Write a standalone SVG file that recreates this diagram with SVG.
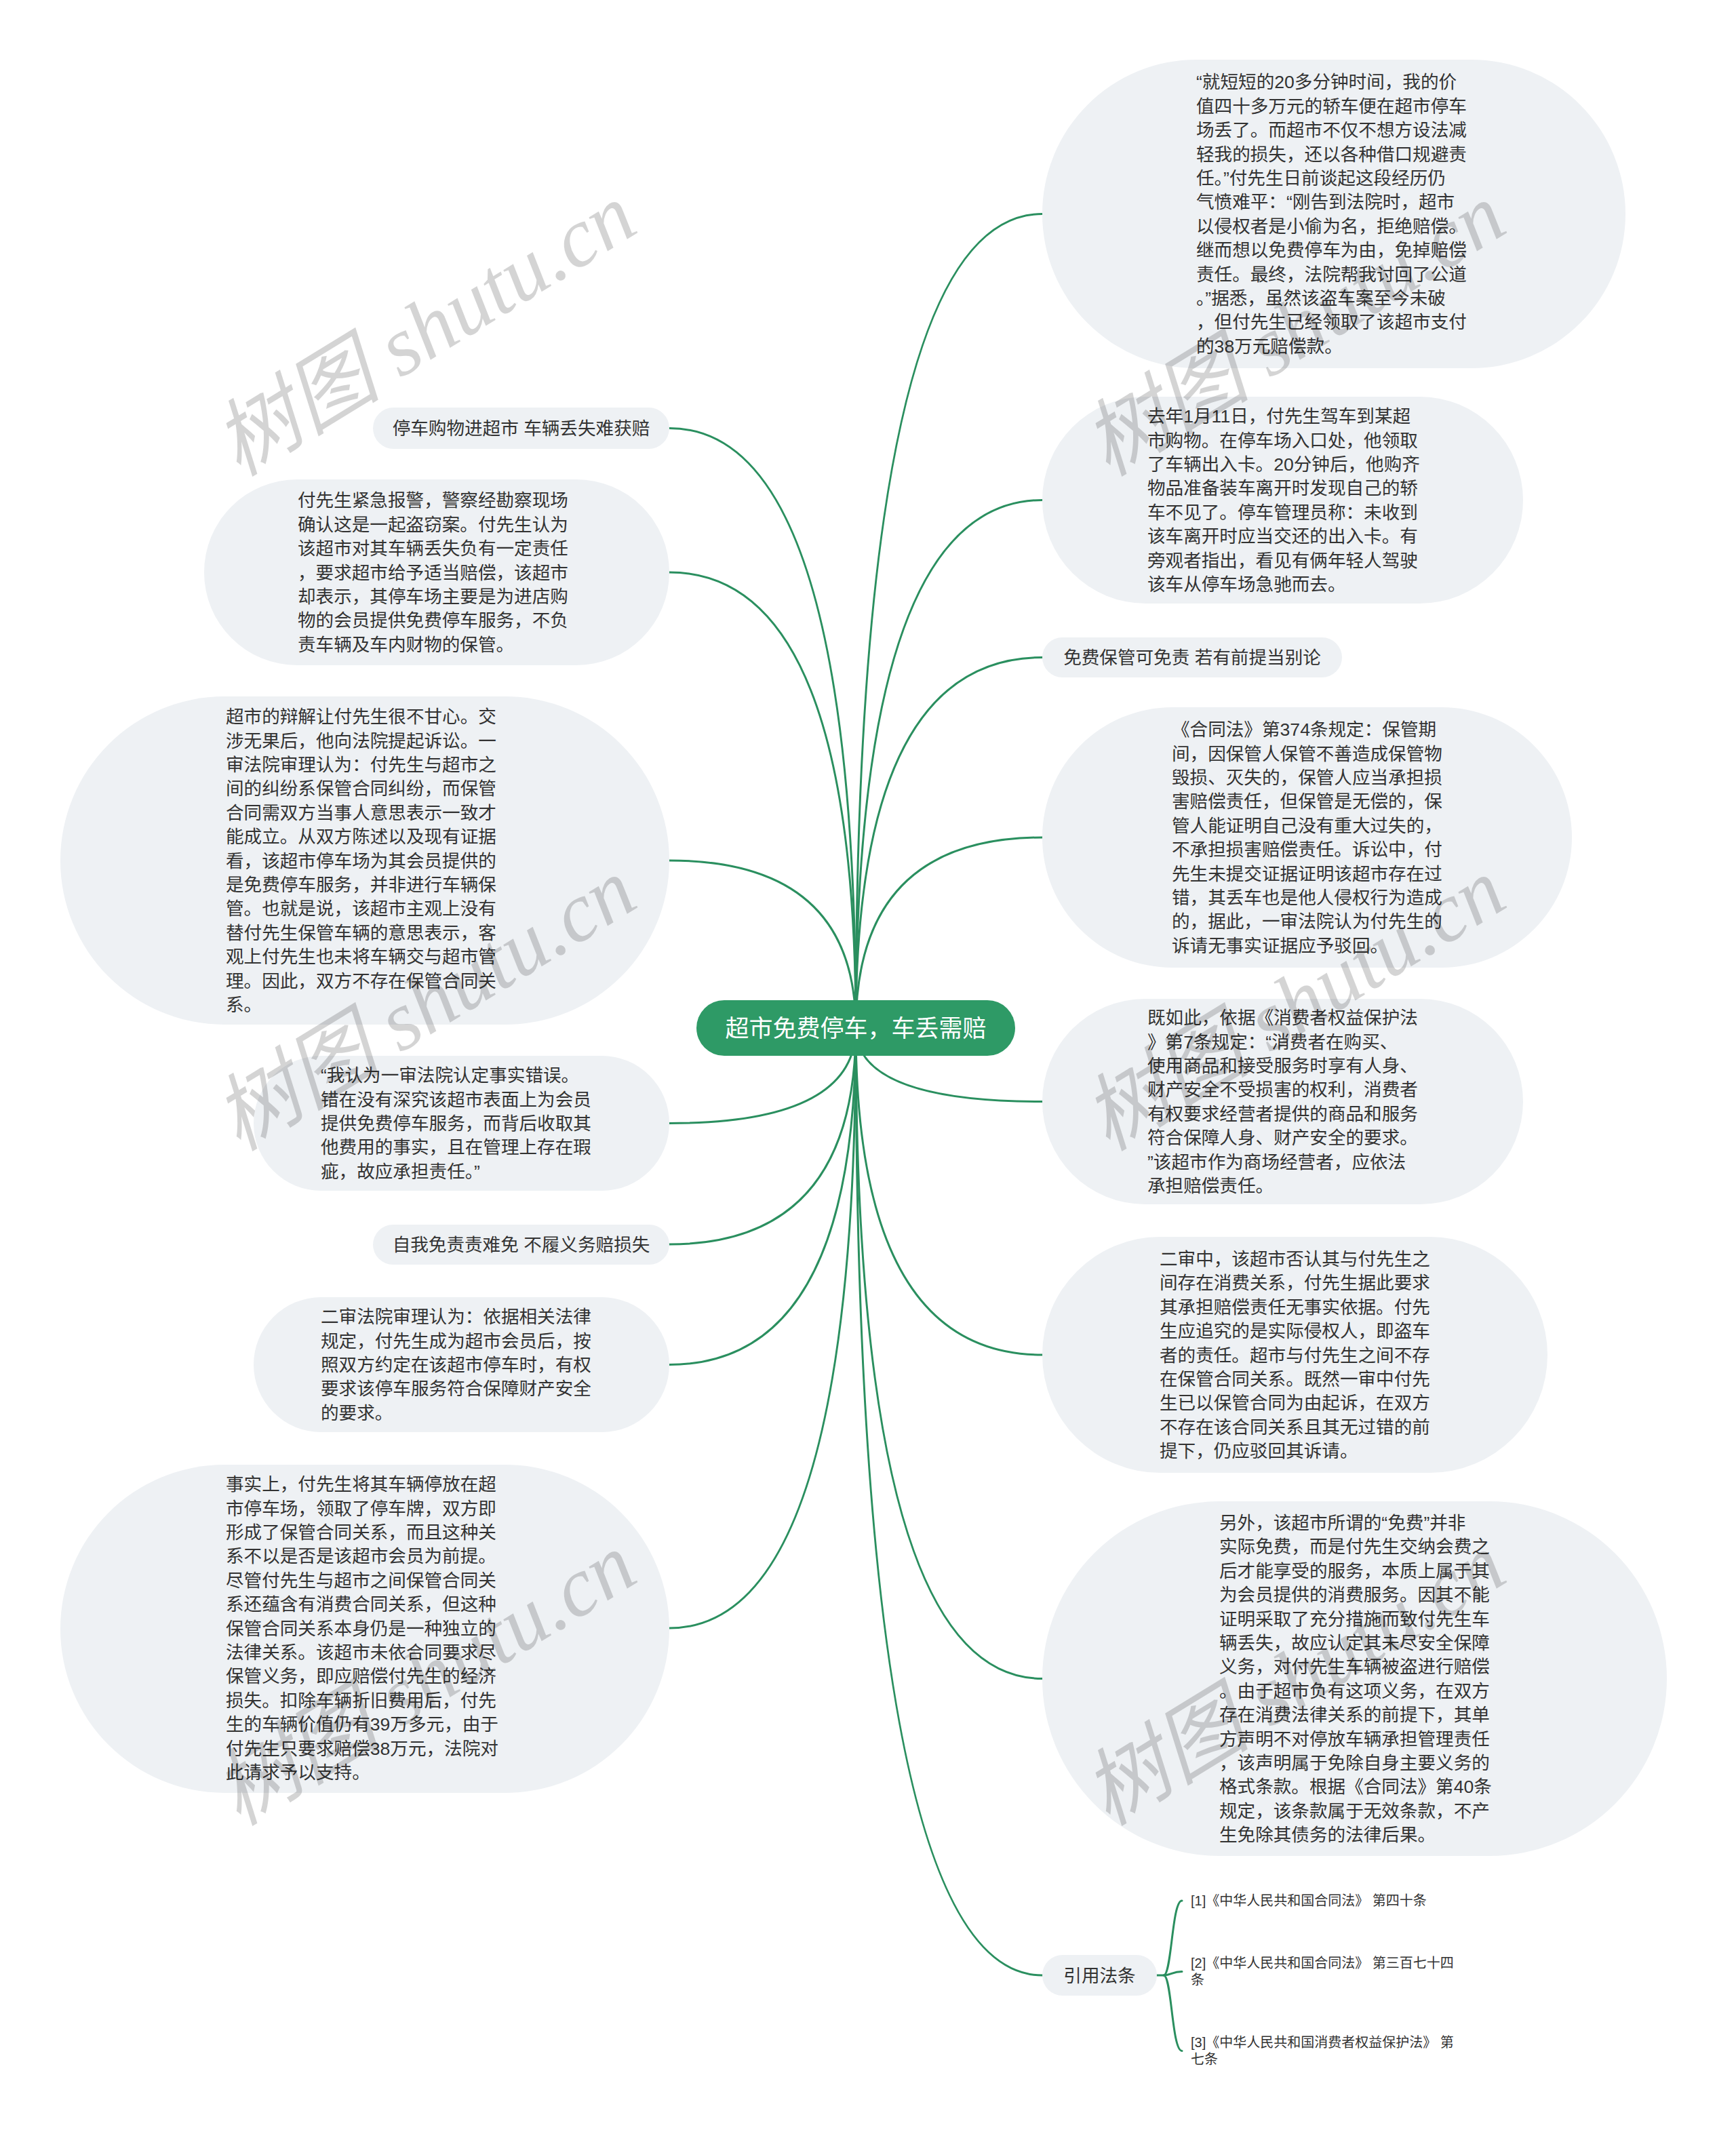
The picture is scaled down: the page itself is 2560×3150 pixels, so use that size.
<svg xmlns="http://www.w3.org/2000/svg" width="2560" height="3150" viewBox="0 0 2560 3150">
<style>
.bg{fill:#ffffff}
.b{fill:#eef1f4}
.t{font-family:"Liberation Sans","Noto Sans CJK SC",sans-serif;font-size:26.6px;fill:#333333}
.tm{font-family:"Liberation Sans","Noto Sans CJK SC",sans-serif;font-size:26.6px;fill:#333333;text-anchor:middle}
.ref{font-family:"Liberation Sans","Noto Sans CJK SC",sans-serif;font-size:20px;fill:#333333}
.c{fill:none;stroke:#2a8f5f;stroke-width:3;stroke-linecap:round}
.wm{font-family:"Liberation Serif","Noto Sans CJK SC",serif;font-size:124px;font-style:italic;fill:#000000;fill-opacity:0.17}
</style>
<rect class="bg" x="0" y="0" width="2560" height="3150"/>
<g id="connectors">
<path class="c" d="M1262,1516 Q1262,315.5 1537,315.5"/>
<path class="c" d="M1262,1516 Q1262,737.5 1537,737.5"/>
<path class="c" d="M1262,1516 Q1262,969.5 1537,969.5"/>
<path class="c" d="M1262,1516 Q1262,1235 1537,1235"/>
<path class="c" d="M1262,1516 Q1262,1624.5 1537,1624.5"/>
<path class="c" d="M1262,1516 Q1262,1998 1537,1998"/>
<path class="c" d="M1262,1516 Q1262,2475.5 1537,2475.5"/>
<path class="c" d="M1262,1516 Q1262,2913 1537,2913"/>
<path class="c" d="M1262,1516 Q1262,631.5 987,631.5"/>
<path class="c" d="M1262,1516 Q1262,844 987,844"/>
<path class="c" d="M1262,1516 Q1262,1269 987,1269"/>
<path class="c" d="M1262,1516 Q1262,1656.5 987,1656.5"/>
<path class="c" d="M1262,1516 Q1262,1835 987,1835"/>
<path class="c" d="M1262,1516 Q1262,2012.5 987,2012.5"/>
<path class="c" d="M1262,1516 Q1262,2401 987,2401"/>
<path class="c" d="M1706,2913 L1716,2913 C1728,2913 1728,2803 1743,2803"/>
<path class="c" d="M1716,2913 C1728,2913 1728,2907.5 1743,2907.5"/>
<path class="c" d="M1716,2913 C1728,2913 1728,3024.5 1743,3024.5"/>
</g>
<g id="center">
<rect x="1027" y="1475" width="470" height="82" rx="41" fill="#2e9a66"/>
<text x="1262" y="1529" text-anchor="middle" font-family="Liberation Sans, Noto Sans CJK SC, sans-serif" font-size="35" fill="#ffffff">超市免费停车，车丢需赔</text>
</g>
<g id="r1">
<rect class="b" x="1537" y="88" width="860" height="455" rx="227.5"/>
<text class="t" x="1764" y="130.3"><tspan x="1764">“就短短的20多分钟时间，我的价</tspan><tspan x="1764" dy="35.4">值四十多万元的轿车便在超市停车</tspan><tspan x="1764" dy="35.4">场丢了。而超市不仅不想方设法减</tspan><tspan x="1764" dy="35.4">轻我的损失，还以各种借口规避责</tspan><tspan x="1764" dy="35.4">任。”付先生日前谈起这段经历仍</tspan><tspan x="1764" dy="35.4">气愤难平：“刚告到法院时，超市</tspan><tspan x="1764" dy="35.4">以侵权者是小偷为名，拒绝赔偿。</tspan><tspan x="1764" dy="35.4">继而想以免费停车为由，免掉赔偿</tspan><tspan x="1764" dy="35.4">责任。最终，法院帮我讨回了公道</tspan><tspan x="1764" dy="35.4">。”据悉，虽然该盗车案至今未破</tspan><tspan x="1764" dy="35.4">，但付先生已经领取了该超市支付</tspan><tspan x="1764" dy="35.4">的38万元赔偿款。</tspan></text>
</g>
<g id="r2">
<rect class="b" x="1537" y="585" width="709" height="305" rx="152.5"/>
<text class="t" x="1692" y="623.1"><tspan x="1692">去年1月11日，付先生驾车到某超</tspan><tspan x="1692" dy="35.4">市购物。在停车场入口处，他领取</tspan><tspan x="1692" dy="35.4">了车辆出入卡。20分钟后，他购齐</tspan><tspan x="1692" dy="35.4">物品准备装车离开时发现自己的轿</tspan><tspan x="1692" dy="35.4">车不见了。停车管理员称：未收到</tspan><tspan x="1692" dy="35.4">该车离开时应当交还的出入卡。有</tspan><tspan x="1692" dy="35.4">旁观者指出，看见有俩年轻人驾驶</tspan><tspan x="1692" dy="35.4">该车从停车场急驰而去。</tspan></text>
</g>
<g id="r3">
<rect class="b" x="1537" y="940" width="442" height="59" rx="29.5"/>
<text class="tm" x="1758" y="979">免费保管可免责 若有前提当别论</text>
</g>
<g id="r4">
<rect class="b" x="1537" y="1043" width="781" height="384" rx="192"/>
<text class="t" x="1728" y="1085.2"><tspan x="1728">《合同法》第374条规定：保管期</tspan><tspan x="1728" dy="35.4">间，因保管人保管不善造成保管物</tspan><tspan x="1728" dy="35.4">毁损、灭失的，保管人应当承担损</tspan><tspan x="1728" dy="35.4">害赔偿责任，但保管是无偿的，保</tspan><tspan x="1728" dy="35.4">管人能证明自己没有重大过失的，</tspan><tspan x="1728" dy="35.4">不承担损害赔偿责任。诉讼中，付</tspan><tspan x="1728" dy="35.4">先生未提交证据证明该超市存在过</tspan><tspan x="1728" dy="35.4">错，其丢车也是他人侵权行为造成</tspan><tspan x="1728" dy="35.4">的，据此，一审法院认为付先生的</tspan><tspan x="1728" dy="35.4">诉请无事实证据应予驳回。</tspan></text>
</g>
<g id="r5">
<rect class="b" x="1537" y="1473" width="709" height="303" rx="151.5"/>
<text class="t" x="1692" y="1510.1"><tspan x="1692">既如此，依据《消费者权益保护法</tspan><tspan x="1692" dy="35.4">》第7条规定：“消费者在购买、</tspan><tspan x="1692" dy="35.4">使用商品和接受服务时享有人身、</tspan><tspan x="1692" dy="35.4">财产安全不受损害的权利，消费者</tspan><tspan x="1692" dy="35.4">有权要求经营者提供的商品和服务</tspan><tspan x="1692" dy="35.4">符合保障人身、财产安全的要求。</tspan><tspan x="1692" dy="35.4">”该超市作为商场经营者，应依法</tspan><tspan x="1692" dy="35.4">承担赔偿责任。</tspan></text>
</g>
<g id="r6">
<rect class="b" x="1537" y="1824" width="745" height="348" rx="174"/>
<text class="t" x="1710" y="1865.9"><tspan x="1710">二审中，该超市否认其与付先生之</tspan><tspan x="1710" dy="35.4">间存在消费关系，付先生据此要求</tspan><tspan x="1710" dy="35.4">其承担赔偿责任无事实依据。付先</tspan><tspan x="1710" dy="35.4">生应追究的是实际侵权人，即盗车</tspan><tspan x="1710" dy="35.4">者的责任。超市与付先生之间不存</tspan><tspan x="1710" dy="35.4">在保管合同关系。既然一审中付先</tspan><tspan x="1710" dy="35.4">生已以保管合同为由起诉，在双方</tspan><tspan x="1710" dy="35.4">不存在该合同关系且其无过错的前</tspan><tspan x="1710" dy="35.4">提下，仍应驳回其诉请。</tspan></text>
</g>
<g id="r7">
<rect class="b" x="1537" y="2214" width="921" height="523" rx="261.5"/>
<text class="t" x="1798" y="2254.9"><tspan x="1798">另外，该超市所谓的“免费”并非</tspan><tspan x="1798" dy="35.4">实际免费，而是付先生交纳会费之</tspan><tspan x="1798" dy="35.4">后才能享受的服务，本质上属于其</tspan><tspan x="1798" dy="35.4">为会员提供的消费服务。因其不能</tspan><tspan x="1798" dy="35.4">证明采取了充分措施而致付先生车</tspan><tspan x="1798" dy="35.4">辆丢失，故应认定其未尽安全保障</tspan><tspan x="1798" dy="35.4">义务，对付先生车辆被盗进行赔偿</tspan><tspan x="1798" dy="35.4">。由于超市负有这项义务，在双方</tspan><tspan x="1798" dy="35.4">存在消费法律关系的前提下，其单</tspan><tspan x="1798" dy="35.4">方声明不对停放车辆承担管理责任</tspan><tspan x="1798" dy="35.4">，该声明属于免除自身主要义务的</tspan><tspan x="1798" dy="35.4">格式条款。根据《合同法》第40条</tspan><tspan x="1798" dy="35.4">规定，该条款属于无效条款，不产</tspan><tspan x="1798" dy="35.4">生免除其债务的法律后果。</tspan></text>
</g>
<g id="r8">
<rect class="b" x="1537" y="2883" width="169" height="60" rx="30"/>
<text class="tm" x="1621.5" y="2922.5">引用法条</text>
</g>
<g id="ref1">
<text class="ref" x="1756" y="2810">[1]《中华人民共和国合同法》 第四十条</text>
</g>
<g id="ref2">
<text class="ref" x="1756" y="2902"><tspan x="1756">[2]《中华人民共和国合同法》 第三百七十四</tspan><tspan x="1756" dy="25">条</tspan></text>
</g>
<g id="ref3">
<text class="ref" x="1756" y="3019"><tspan x="1756">[3]《中华人民共和国消费者权益保护法》 第</tspan><tspan x="1756" dy="25">七条</tspan></text>
</g>
<g id="l1">
<rect class="b" x="550" y="601" width="437" height="61" rx="30.5"/>
<text class="tm" x="768.5" y="641">停车购物进超市 车辆丢失难获赔</text>
</g>
<g id="l2">
<rect class="b" x="301" y="707" width="686" height="274" rx="137"/>
<text class="t" x="439" y="747.3"><tspan x="439">付先生紧急报警，警察经勘察现场</tspan><tspan x="439" dy="35.4">确认这是一起盗窃案。付先生认为</tspan><tspan x="439" dy="35.4">该超市对其车辆丢失负有一定责任</tspan><tspan x="439" dy="35.4">，要求超市给予适当赔偿，该超市</tspan><tspan x="439" dy="35.4">却表示，其停车场主要是为进店购</tspan><tspan x="439" dy="35.4">物的会员提供免费停车服务，不负</tspan><tspan x="439" dy="35.4">责车辆及车内财物的保管。</tspan></text>
</g>
<g id="l3">
<rect class="b" x="89" y="1027" width="898" height="484" rx="242"/>
<text class="t" x="333" y="1066.1"><tspan x="333">超市的辩解让付先生很不甘心。交</tspan><tspan x="333" dy="35.4">涉无果后，他向法院提起诉讼。一</tspan><tspan x="333" dy="35.4">审法院审理认为：付先生与超市之</tspan><tspan x="333" dy="35.4">间的纠纷系保管合同纠纷，而保管</tspan><tspan x="333" dy="35.4">合同需双方当事人意思表示一致才</tspan><tspan x="333" dy="35.4">能成立。从双方陈述以及现有证据</tspan><tspan x="333" dy="35.4">看，该超市停车场为其会员提供的</tspan><tspan x="333" dy="35.4">是免费停车服务，并非进行车辆保</tspan><tspan x="333" dy="35.4">管。也就是说，该超市主观上没有</tspan><tspan x="333" dy="35.4">替付先生保管车辆的意思表示，客</tspan><tspan x="333" dy="35.4">观上付先生也未将车辆交与超市管</tspan><tspan x="333" dy="35.4">理。因此，双方不存在保管合同关</tspan><tspan x="333" dy="35.4">系。</tspan></text>
</g>
<g id="l4">
<rect class="b" x="374" y="1557" width="613" height="199" rx="99.5"/>
<text class="t" x="473" y="1595.2"><tspan x="473">“我认为一审法院认定事实错误。</tspan><tspan x="473" dy="35.4">错在没有深究该超市表面上为会员</tspan><tspan x="473" dy="35.4">提供免费停车服务，而背后收取其</tspan><tspan x="473" dy="35.4">他费用的事实，且在管理上存在瑕</tspan><tspan x="473" dy="35.4">疵，故应承担责任。”</tspan></text>
</g>
<g id="l5">
<rect class="b" x="550" y="1806" width="437" height="59" rx="29.5"/>
<text class="tm" x="768.5" y="1844.5">自我免责责难免 不履义务赔损失</text>
</g>
<g id="l6">
<rect class="b" x="374" y="1913" width="613" height="199" rx="99.5"/>
<text class="t" x="473" y="1951.2"><tspan x="473">二审法院审理认为：依据相关法律</tspan><tspan x="473" dy="35.4">规定，付先生成为超市会员后，按</tspan><tspan x="473" dy="35.4">照双方约定在该超市停车时，有权</tspan><tspan x="473" dy="35.4">要求该停车服务符合保障财产安全</tspan><tspan x="473" dy="35.4">的要求。</tspan></text>
</g>
<g id="l7">
<rect class="b" x="89" y="2160" width="898" height="484" rx="242"/>
<text class="t" x="333" y="2198.1"><tspan x="333">事实上，付先生将其车辆停放在超</tspan><tspan x="333" dy="35.4">市停车场，领取了停车牌，双方即</tspan><tspan x="333" dy="35.4">形成了保管合同关系，而且这种关</tspan><tspan x="333" dy="35.4">系不以是否是该超市会员为前提。</tspan><tspan x="333" dy="35.4">尽管付先生与超市之间保管合同关</tspan><tspan x="333" dy="35.4">系还蕴含有消费合同关系，但这种</tspan><tspan x="333" dy="35.4">保管合同关系本身仍是一种独立的</tspan><tspan x="333" dy="35.4">法律关系。该超市未依合同要求尽</tspan><tspan x="333" dy="35.4">保管义务，即应赔偿付先生的经济</tspan><tspan x="333" dy="35.4">损失。扣除车辆折旧费用后，付先</tspan><tspan x="333" dy="35.4">生的车辆价值仍有39万多元，由于</tspan><tspan x="333" dy="35.4">付先生只要求赔偿38万元，法院对</tspan><tspan x="333" dy="35.4">此请求予以支持。</tspan></text>
</g>
<g id="watermarks">
<text class="wm" transform="translate(352,704) rotate(-31.5)">树图 shutu.cn</text>
<text class="wm" transform="translate(1634,704) rotate(-31.5)">树图 shutu.cn</text>
<text class="wm" transform="translate(352,1699) rotate(-31.5)">树图 shutu.cn</text>
<text class="wm" transform="translate(1634,1699) rotate(-31.5)">树图 shutu.cn</text>
<text class="wm" transform="translate(352,2694) rotate(-31.5)">树图 shutu.cn</text>
<text class="wm" transform="translate(1634,2694) rotate(-31.5)">树图 shutu.cn</text>
</g>
</svg>
